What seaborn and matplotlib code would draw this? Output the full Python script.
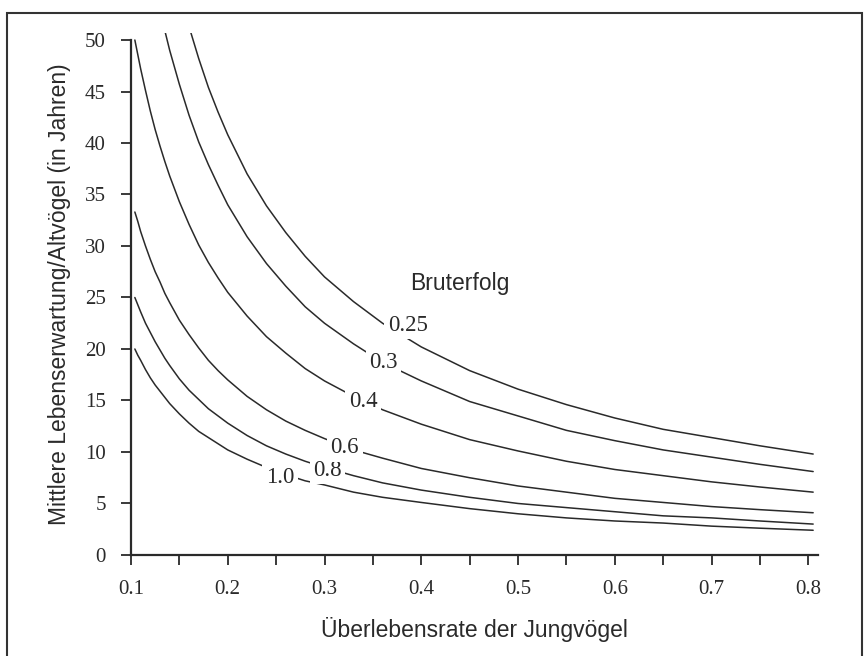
import numpy as np
import pandas as pd
import seaborn as sns
import matplotlib.pyplot as plt
from matplotlib.patches import Rectangle

# Werte
ueberlebensrate = [0.104, 0.107, 0.11, 0.115, 0.12, 0.125, 0.13, 0.135, 0.14, 0.15, 0.16,
                   0.17, 0.18, 0.19, 0.20, 0.22, 0.24, 0.26, 0.28, 0.30, 0.33, 0.36,
                   0.40, 0.45, 0.50, 0.55, 0.60, 0.65, 0.70, 0.75, 0.805]

bruterfolg = ["1.0", "0.8", "0.6", "0.4", "0.3", "0.25"]

lebenserw_10 = [20.0, 19.4, 18.9, 18.0, 17.2, 16.5, 15.9, 15.3, 14.7, 13.7, 12.8, 12.0, 11.4, 10.8,
                10.2, 9.3, 8.5, 7.8, 7.2, 6.8, 6.1, 5.6, 5.1, 4.5, 4.0, 3.6, 3.3, 3.1, 2.8, 2.6, 2.4]
lebenserw_08 = [25.0, 24.3, 23.6, 22.5, 21.6, 20.7, 19.9, 19.1, 18.4, 17.1, 16.0, 15.1, 14.2, 13.5,
                12.8, 11.6, 10.6, 9.8, 9.1, 8.5, 7.7, 7.0, 6.3, 5.6, 5.0, 4.6, 4.2, 3.8, 3.6, 3.3, 3.0]
lebenserw_06 = [33.3, 32.4, 31.4, 30.0, 28.7, 27.5, 26.5, 25.4, 24.5, 22.8, 21.4, 20.1, 18.9, 17.9,
                17.0, 15.4, 14.1, 13.0, 12.1, 11.3, 10.2, 9.4, 8.4, 7.5, 6.7, 6.1, 5.5, 5.1, 4.7, 4.4, 4.1]
lebenserw_04 = [50.0, 48.6, 47.2, 45.1, 43.1, 41.3, 39.7, 38.2, 36.8, 34.3, 32.1, 30.1, 28.4, 26.9,
                25.5, 23.2, 21.2, 19.6, 18.1, 16.9, 15.4, 14.1, 12.7, 11.2, 10.1, 9.1, 8.3, 7.7, 7.1, 6.6, 6.1]
lebenserw_03 = [66.7, 64.7, 62.9, 60.1, 57.5, 55.1, 52.9, 50.9, 49.0, 45.7, 42.7, 40.1, 37.9, 35.9,
                34.0, 30.9, 28.3, 26.1, 24.1, 22.5, 20.5, 18.7, 16.9, 14.9, 13.5, 12.1, 11.1, 10.2, 9.5, 8.8, 8.1]
lebenserw_025 = [80.0, 77.7, 75.4, 72.1, 69.0, 66.1, 63.5, 61.0, 58.8, 54.8, 51.3, 48.2, 45.4, 43.0,
                 40.8, 37.0, 33.9, 31.3, 29.0, 27.0, 24.6, 22.5, 20.2, 17.9, 16.1, 14.6, 13.3, 12.2, 11.4, 10.6, 9.8]

# Positionen der Kurvenbeschriftungen (x, y)
label_x = [0.254, 0.303, 0.321, 0.340, 0.361, 0.386]
label_y = [7.5, 8.25, 10.4, 14.9, 18.7, 22.3]

# Tabelle im Langformat fuer seaborn
reihen = [lebenserw_10, lebenserw_08, lebenserw_06, lebenserw_04, lebenserw_03, lebenserw_025]
df = pd.concat([pd.DataFrame({"s": ueberlebensrate, "L": werte, "b": b})
                for b, werte in zip(bruterfolg, reihen)], ignore_index=True)

sns.set_style("white")
plt.rcParams["font.family"] = ["Liberation Sans", "DejaVu Sans"]

farbe = "#2a2a2a"

fig = plt.figure(figsize=(8.68, 6.56), dpi=100)
ax = fig.add_axes([0.1509, 0.154, 0.7915, 0.796])

sns.lineplot(data=df, x="s", y="L", hue="b", palette=[farbe] * 6,
             linewidth=1.1, legend=False, ax=ax, sort=False)

# Beschriftungen auf den Kurven
for b, lx, ly in zip(bruterfolg, label_x, label_y):
    ax.text(lx, ly, b, ha="center", va="center", fontsize=16.5,
            family="Liberation Serif", color=farbe, zorder=5,
            bbox=dict(facecolor="white", edgecolor="none", pad=2.5))

ax.text(0.440, 26.4, "Bruterfolg", ha="center", va="center", fontsize=16.5, color=farbe)

# Achsen
ax.set_xlim(0.1, 0.81)
ax.set_ylim(0, 50.7)
ax.set_xticks(np.arange(0.1, 0.801, 0.05))
ax.set_xticklabels(["0.1", "", "0.2", "", "0.3", "", "0.4", "", "0.5", "", "0.6", "", "0.7", "", "0.8"])
ax.set_yticks(np.arange(0, 51, 5))
ax.set_yticklabels([str(v) for v in range(0, 51, 5)])
for lab in ax.get_xticklabels() + ax.get_yticklabels():
    lab.set_family("Liberation Serif")
    lab.set_fontsize(15)
ax.tick_params(axis="both", direction="out", length=7, width=1.3, color=farbe,
               labelcolor=farbe, bottom=True, left=True)
ax.tick_params(axis="x", pad=11)
ax.tick_params(axis="y", pad=11)

sns.despine(ax=ax)
ax.spines["left"].set_bounds(0, 50)
for sp in ["left", "bottom"]:
    ax.spines[sp].set_linewidth(1.6)
    ax.spines[sp].set_color(farbe)

ax.set_xlabel("Überlebensrate der Jungvögel", fontsize=16.5, color=farbe, labelpad=13)
ax.set_ylabel("Mittlere Lebenserwartung/Altvögel (in Jahren)", fontsize=16.5, color=farbe, labelpad=10)

# Rahmen um die Abbildung
fig.patches.append(Rectangle((7 / 868, -0.02), 855 / 868, 1 - 13 / 656 + 0.02,
                             transform=fig.transFigure, fill=False,
                             edgecolor="#333333", linewidth=1.5))

fig.savefig("out.png", dpi=100, facecolor="white")
